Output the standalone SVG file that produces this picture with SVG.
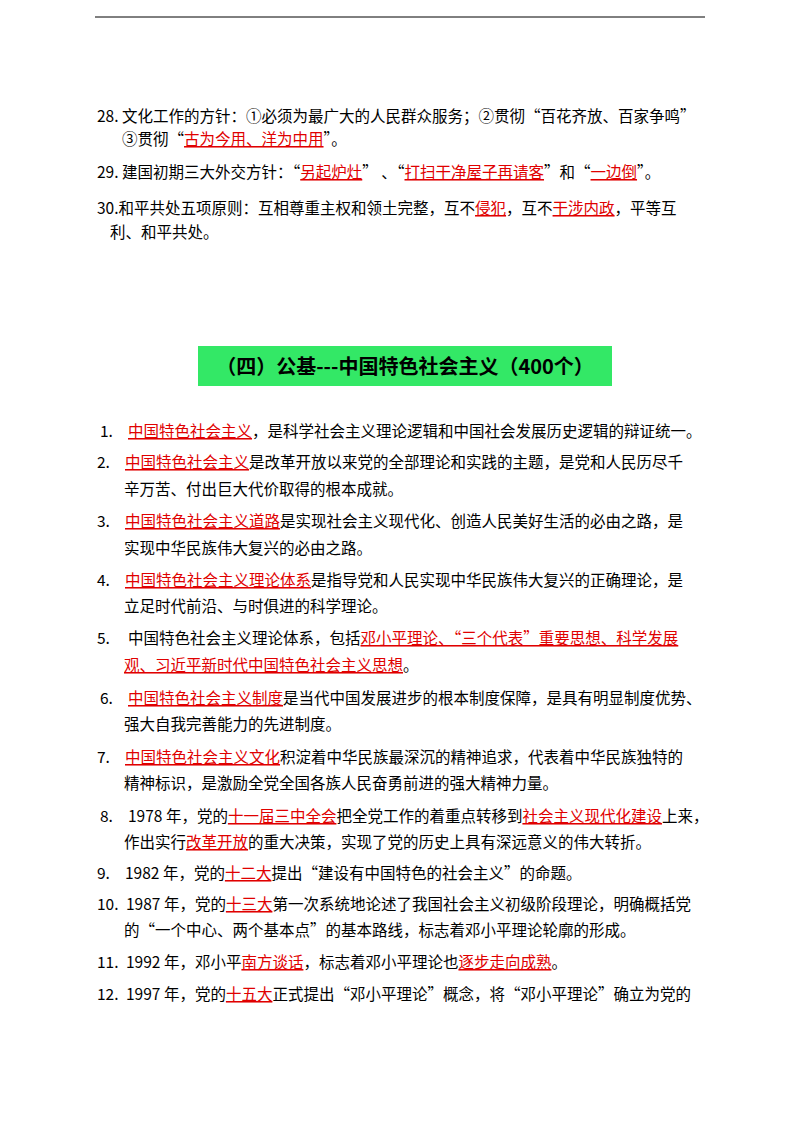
<svg xmlns="http://www.w3.org/2000/svg" width="800" height="1132" viewBox="0 0 800 1132" xml:space="preserve">
<style>
text{font-family:"Noto Sans CJK SC","Liberation Sans",sans-serif;font-size:15.5px;fill:#000}
.r{fill:#e00000;text-decoration:underline}
.t{font-size:20px;font-weight:bold}
</style>
<rect width="800" height="1132" fill="#fff"/>
<line x1="95" y1="17" x2="705" y2="17" stroke="#000" stroke-width="1"/>
<text x="97" y="122">28. 文化工作的方针：①必须为最广大的人民群众服务；②贯彻“百花齐放、百家争鸣”</text>
<text x="122" y="145">③贯彻“<tspan class="r">古为今用、洋为中用</tspan>”。</text>
<text x="97" y="178">29. 建国初期三大外交方针：“<tspan class="r">另起炉灶</tspan>” 、“<tspan class="r">打扫干净屋子再请客</tspan>”和“<tspan class="r">一边倒</tspan>”。</text>
<text x="97" y="214">30.和平共处五项原则：互相尊重主权和领土完整，互不<tspan class="r">侵犯</tspan>，互不<tspan class="r">干涉内政</tspan>，平等互</text>
<text x="110" y="238">利、和平共处。</text>
<rect x="198" y="346" width="414" height="40" fill="#33e866"/>
<text class="t" x="405" y="374" text-anchor="middle">（四）公基---中国特色社会主义（400个）</text>
<text x="100" y="437">1.</text><text x="128" y="437"><tspan class="r">中国特色社会主义</tspan>，是科学社会主义理论逻辑和中国社会发展历史逻辑的辩证统一。</text>
<text x="97" y="468">2.</text><text x="125" y="468"><tspan class="r">中国特色社会主义</tspan>是改革开放以来党的全部理论和实践的主题，是党和人民历尽千</text>
<text x="124" y="495">辛万苦、付出巨大代价取得的根本成就。</text>
<text x="97" y="527">3.</text><text x="125" y="527"><tspan class="r">中国特色社会主义道路</tspan>是实现社会主义现代化、创造人民美好生活的必由之路，是</text>
<text x="124" y="554">实现中华民族伟大复兴的必由之路。</text>
<text x="97" y="586">4.</text><text x="125" y="586"><tspan class="r">中国特色社会主义理论体系</tspan>是指导党和人民实现中华民族伟大复兴的正确理论，是</text>
<text x="124" y="612">立足时代前沿、与时俱进的科学理论。</text>
<text x="97" y="644">5.</text><text x="128" y="644">中国特色社会主义理论体系，包括<tspan class="r">邓小平理论、“三个代表”重要思想、科学发展</tspan></text>
<text x="124" y="671"><tspan class="r">观、习近平新时代中国特色社会主义思想</tspan>。</text>
<text x="100" y="704">6.</text><text x="128" y="704"><tspan class="r">中国特色社会主义制度</tspan>是当代中国发展进步的根本制度保障，是具有明显制度优势、</text>
<text x="124" y="730">强大自我完善能力的先进制度。</text>
<text x="97" y="763">7.</text><text x="125" y="763"><tspan class="r">中国特色社会主义文化</tspan>积淀着中华民族最深沉的精神追求，代表着中华民族独特的</text>
<text x="124" y="789">精神标识，是激励全党全国各族人民奋勇前进的强大精神力量。</text>
<text x="100" y="822">8.</text><text x="128" y="822">1978 年，党的<tspan class="r">十一届三中全会</tspan>把全党工作的着重点转移到<tspan class="r">社会主义现代化建设</tspan>上来，</text>
<text x="124" y="848">作出实行<tspan class="r">改革开放</tspan>的重大决策，实现了党的历史上具有深远意义的伟大转折。</text>
<text x="97" y="879">9.</text><text x="125" y="879">1982 年，党的<tspan class="r">十二大</tspan>提出“建设有中国特色的社会主义”的命题。</text>
<text x="97" y="910">10.</text><text x="126" y="910">1987 年，党的<tspan class="r">十三大</tspan>第一次系统地论述了我国社会主义初级阶段理论，明确概括党</text>
<text x="124" y="936">的“一个中心、两个基本点”的基本路线，标志着邓小平理论轮廓的形成。</text>
<text x="97" y="968">11.</text><text x="126" y="968">1992 年，邓小平<tspan class="r">南方谈话</tspan>，标志着邓小平理论也<tspan class="r">逐步走向成熟</tspan>。</text>
<text x="97" y="1000">12.</text><text x="126" y="1000">1997 年，党的<tspan class="r">十五大</tspan>正式提出“邓小平理论”概念，将“邓小平理论”确立为党的</text>
</svg>
